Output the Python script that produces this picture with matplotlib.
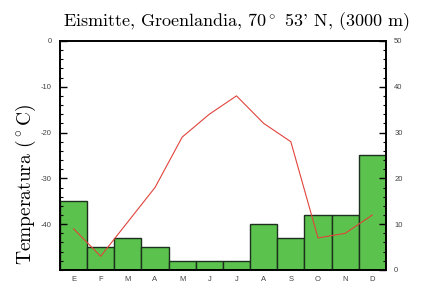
import matplotlib
matplotlib.use("Agg")
import matplotlib.pyplot as plt
from matplotlib.ticker import MultipleLocator

months = ["E", "F", "M", "A", "M", "J", "J", "A", "S", "O", "N", "D"]
precip = [15, 5, 7, 5, 2, 2, 2, 10, 7, 12, 12, 25]   # mm, right axis
temp = [-41, -47, -39.5, -32, -21, -16, -12, -18, -22, -43, -42, -38]  # degC, left axis

plt.rcParams['mathtext.fontset'] = 'cm'
plt.rcParams['axes.unicode_minus'] = False
plt.rcParams['font.family'] = ['Liberation Sans', 'DejaVu Sans']

fig = plt.figure(figsize=(4.25, 2.86), dpi=100)
ax_t = fig.add_axes([0.141, 0.056, 0.767, 0.801])
ax_p = ax_t.twinx()

x = list(range(len(months)))

# bars on the right (precipitation) axis, drawn below the temperature line
ax_p.bar(x, precip, width=1.0, color="#5bc24d", edgecolor="#1d2f1d", linewidth=1.0, zorder=1)
ax_p.set_ylim(0, 50)
ax_p.yaxis.set_major_locator(MultipleLocator(10))
ax_p.yaxis.set_minor_locator(MultipleLocator(2))

ax_t.plot(x, temp, color="#e0443c", linewidth=0.8, zorder=5)
ax_t.set_ylim(-50, 0)
ax_t.set_yticks([0, -10, -20, -30, -40])
ax_t.yaxis.set_minor_locator(MultipleLocator(2))
ax_t.set_xlim(-0.5, 11.5)
ax_t.set_xticks(x)
ax_t.set_xticklabels(months)

# temperature line on top of the bars
ax_t.set_zorder(ax_p.get_zorder() + 1)
ax_t.patch.set_visible(False)

for a in (ax_t, ax_p):
    for s in a.spines.values():
        s.set_linewidth(1.2)
    a.tick_params(axis='y', which='major', direction='in', length=5, width=1,
                  labelsize=5.5, labelcolor="#444444", pad=6)
    a.tick_params(axis='y', which='minor', direction='in', length=2.5, width=0.8)
ax_t.tick_params(axis='x', length=0, labelsize=5.5, labelcolor="#444444", pad=4)

fig.text(0.555, 0.925, r"Eismitte, Groenlandia, 70$^\circ$ 53' N, (3000 m)",
         ha='center', va='center', family='cmr10', fontsize=13)
fig.text(0.062, 0.355, r"Temperatura ($^\circ$C)", rotation=90, ha='center', va='center',
         family='cmr10', fontsize=14)

fig.savefig("out.png", dpi=100)
